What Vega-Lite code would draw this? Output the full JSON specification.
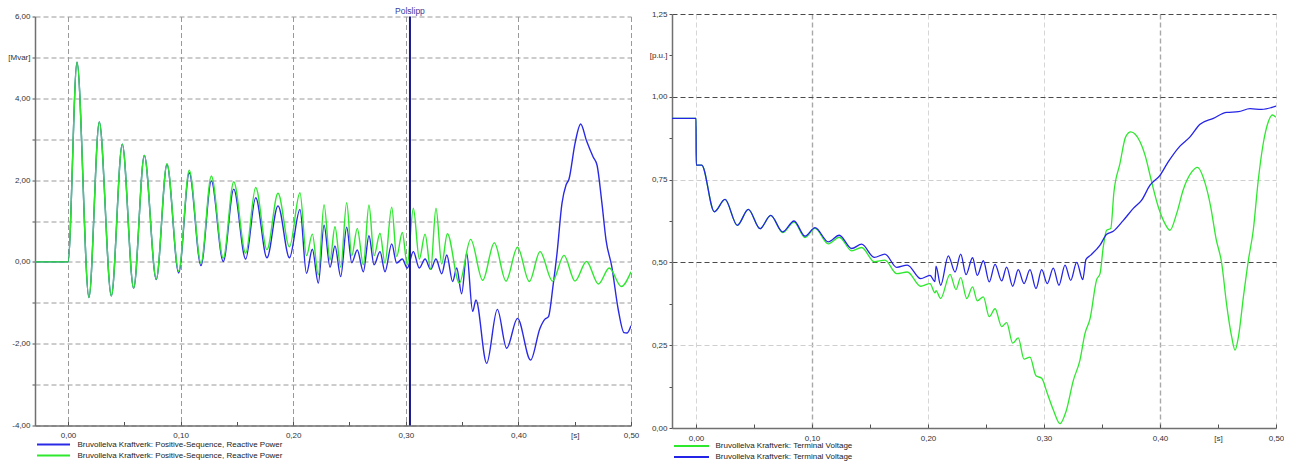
{
  "$schema": "https://vega.github.io/schema/vega-lite/v6.json",
  "background": "white",
  "padding": {"left": 7, "top": 6, "right": 0, "bottom": 0},
  "spacing": 41,
  "bounds": "flush",
  "center": true,
  "config": {
    "font": "Liberation Sans",
    "view": {"stroke": null},
    "axis": {
      "labelFont": "Liberation Sans",
      "labelFontSize": 8,
      "labelColor": "#333333",
      "domainColor": "#707070",
      "domainWidth": 1.5,
      "tickColor": "#505050",
      "title": null
    },
    "legend": {
      "labelFont": "Liberation Sans",
      "labelFontSize": 8,
      "labelColor": "#222222",
      "labelLimit": 0
    }
  },
  "datasets": {
    "reactive": [
      {"t": -0.0293, "q": 0, "case": "1"},
      {"t": 0, "q": 0, "case": "1"},
      {"t": 0.008, "q": 4.88, "case": "1"},
      {"t": 0.0186, "q": -0.87, "case": "1"},
      {"t": 0.0278, "q": 3.42, "case": "1"},
      {"t": 0.0385, "q": -0.83, "case": "1"},
      {"t": 0.0482, "q": 2.88, "case": "1"},
      {"t": 0.0583, "q": -0.64, "case": "1"},
      {"t": 0.0678, "q": 2.6, "case": "1"},
      {"t": 0.0784, "q": -0.43, "case": "1"},
      {"t": 0.0879, "q": 2.38, "case": "1"},
      {"t": 0.0983, "q": -0.27, "case": "1"},
      {"t": 0.1077, "q": 2.18, "case": "1"},
      {"t": 0.1181, "q": -0.09, "case": "1"},
      {"t": 0.1273, "q": 1.98, "case": "1"},
      {"t": 0.1379, "q": 0.01, "case": "1"},
      {"t": 0.1472, "q": 1.78, "case": "1"},
      {"t": 0.1578, "q": 0.07, "case": "1"},
      {"t": 0.1667, "q": 1.57, "case": "1"},
      {"t": 0.1767, "q": 0.1, "case": "1"},
      {"t": 0.1865, "q": 1.37, "case": "1"},
      {"t": 0.1967, "q": 0.1, "case": "1"},
      {"t": 0.206, "q": 1.28, "case": "1"},
      {"t": 0.2118, "q": -0.28, "case": "1"},
      {"t": 0.217, "q": 0.31, "case": "1"},
      {"t": 0.2223, "q": -0.52, "case": "1"},
      {"t": 0.2274, "q": 0.9, "case": "1"},
      {"t": 0.2327, "q": -0.13, "case": "1"},
      {"t": 0.2371, "q": 0.39, "case": "1"},
      {"t": 0.2422, "q": -0.36, "case": "1"},
      {"t": 0.2475, "q": 0.85, "case": "1"},
      {"t": 0.252, "q": -0.02, "case": "1"},
      {"t": 0.2569, "q": 0.29, "case": "1"},
      {"t": 0.2623, "q": -0.24, "case": "1"},
      {"t": 0.2673, "q": 0.64, "case": "1"},
      {"t": 0.2718, "q": -0.07, "case": "1"},
      {"t": 0.2771, "q": 0.25, "case": "1"},
      {"t": 0.2815, "q": -0.24, "case": "1"},
      {"t": 0.2875, "q": 0.44, "case": "1"},
      {"t": 0.2919, "q": -0.03, "case": "1"},
      {"t": 0.2969, "q": 0.07, "case": "1"},
      {"t": 0.3013, "q": -0.15, "case": "1"},
      {"t": 0.3067, "q": 0.25, "case": "1"},
      {"t": 0.312, "q": -0.15, "case": "1"},
      {"t": 0.3171, "q": 0.07, "case": "1"},
      {"t": 0.3221, "q": -0.18, "case": "1"},
      {"t": 0.3268, "q": 0.07, "case": "1"},
      {"t": 0.3319, "q": -0.29, "case": "1"},
      {"t": 0.3364, "q": 0.17, "case": "1"},
      {"t": 0.3416, "q": -0.48, "case": "1"},
      {"t": 0.3452, "q": -0.15, "case": "1"},
      {"t": 0.3496, "q": -0.78, "case": "1"},
      {"t": 0.3541, "q": 0.21, "case": "1"},
      {"t": 0.3594, "q": -1.21, "case": "1"},
      {"t": 0.3623, "q": -0.93, "case": "1"},
      {"t": 0.3718, "q": -2.48, "case": "1"},
      {"t": 0.3813, "q": -1.16, "case": "1"},
      {"t": 0.3896, "q": -2.11, "case": "1"},
      {"t": 0.3992, "q": -1.38, "case": "1"},
      {"t": 0.4108, "q": -2.4, "case": "1"},
      {"t": 0.4192, "q": -1.62, "case": "1"},
      {"t": 0.4236, "q": -1.4, "case": "1"},
      {"t": 0.4267, "q": -1.34, "case": "1"},
      {"t": 0.4307, "q": -0.6, "case": "1"},
      {"t": 0.4343, "q": 0.21, "case": "1"},
      {"t": 0.4387, "q": 1.43, "case": "1"},
      {"t": 0.4423, "q": 1.88, "case": "1"},
      {"t": 0.4449, "q": 2.02, "case": "1"},
      {"t": 0.4503, "q": 2.9, "case": "1"},
      {"t": 0.4553, "q": 3.37, "case": "1"},
      {"t": 0.4605, "q": 2.96, "case": "1"},
      {"t": 0.4663, "q": 2.57, "case": "1"},
      {"t": 0.4698, "q": 2.37, "case": "1"},
      {"t": 0.4742, "q": 1.43, "case": "1"},
      {"t": 0.4778, "q": 0.54, "case": "1"},
      {"t": 0.4829, "q": -0.11, "case": "1"},
      {"t": 0.4887, "q": -1.17, "case": "1"},
      {"t": 0.4938, "q": -1.73, "case": "1"},
      {"t": 0.4964, "q": -1.74, "case": "1"},
      {"t": 0.5, "q": -1.56, "case": "1"},
      {"t": -0.0293, "q": 0, "case": "2"},
      {"t": 0, "q": 0, "case": "2"},
      {"t": 0.008, "q": 4.88, "case": "2"},
      {"t": 0.0186, "q": -0.87, "case": "2"},
      {"t": 0.0278, "q": 3.42, "case": "2"},
      {"t": 0.0385, "q": -0.83, "case": "2"},
      {"t": 0.0482, "q": 2.88, "case": "2"},
      {"t": 0.0583, "q": -0.64, "case": "2"},
      {"t": 0.0678, "q": 2.6, "case": "2"},
      {"t": 0.0784, "q": -0.42, "case": "2"},
      {"t": 0.0879, "q": 2.4, "case": "2"},
      {"t": 0.0983, "q": -0.23, "case": "2"},
      {"t": 0.1077, "q": 2.24, "case": "2"},
      {"t": 0.1181, "q": -0.03, "case": "2"},
      {"t": 0.1273, "q": 2.1, "case": "2"},
      {"t": 0.1379, "q": 0.09, "case": "2"},
      {"t": 0.1472, "q": 1.96, "case": "2"},
      {"t": 0.1578, "q": 0.21, "case": "2"},
      {"t": 0.1667, "q": 1.82, "case": "2"},
      {"t": 0.1767, "q": 0.3, "case": "2"},
      {"t": 0.1865, "q": 1.68, "case": "2"},
      {"t": 0.1967, "q": 0.37, "case": "2"},
      {"t": 0.206, "q": 1.69, "case": "2"},
      {"t": 0.2118, "q": 0.15, "case": "2"},
      {"t": 0.217, "q": 0.68, "case": "2"},
      {"t": 0.2223, "q": -0.32, "case": "2"},
      {"t": 0.2274, "q": 1.4, "case": "2"},
      {"t": 0.2327, "q": 0.05, "case": "2"},
      {"t": 0.2371, "q": 0.86, "case": "2"},
      {"t": 0.2422, "q": -0.13, "case": "2"},
      {"t": 0.2475, "q": 1.45, "case": "2"},
      {"t": 0.252, "q": 0.15, "case": "2"},
      {"t": 0.2569, "q": 0.82, "case": "2"},
      {"t": 0.2623, "q": -0.07, "case": "2"},
      {"t": 0.2673, "q": 1.39, "case": "2"},
      {"t": 0.2718, "q": 0.15, "case": "2"},
      {"t": 0.2771, "q": 0.7, "case": "2"},
      {"t": 0.2815, "q": -0.03, "case": "2"},
      {"t": 0.2875, "q": 1.34, "case": "2"},
      {"t": 0.2919, "q": 0.13, "case": "2"},
      {"t": 0.2969, "q": 0.72, "case": "2"},
      {"t": 0.3013, "q": -0.07, "case": "2"},
      {"t": 0.3067, "q": 1.31, "case": "2"},
      {"t": 0.312, "q": 0.07, "case": "2"},
      {"t": 0.3171, "q": 0.68, "case": "2"},
      {"t": 0.3221, "q": -0.18, "case": "2"},
      {"t": 0.3268, "q": 1.31, "case": "2"},
      {"t": 0.3319, "q": -0.05, "case": "2"},
      {"t": 0.3369, "q": 0.69, "case": "2"},
      {"t": 0.3475, "q": -0.52, "case": "2"},
      {"t": 0.3576, "q": 0.55, "case": "2"},
      {"t": 0.3683, "q": -0.45, "case": "2"},
      {"t": 0.3786, "q": 0.47, "case": "2"},
      {"t": 0.389, "q": -0.47, "case": "2"},
      {"t": 0.3992, "q": 0.36, "case": "2"},
      {"t": 0.4097, "q": -0.48, "case": "2"},
      {"t": 0.4192, "q": 0.25, "case": "2"},
      {"t": 0.4303, "q": -0.47, "case": "2"},
      {"t": 0.4405, "q": 0.16, "case": "2"},
      {"t": 0.4503, "q": -0.47, "case": "2"},
      {"t": 0.4605, "q": 0.01, "case": "2"},
      {"t": 0.4711, "q": -0.54, "case": "2"},
      {"t": 0.4807, "q": -0.15, "case": "2"},
      {"t": 0.4914, "q": -0.6, "case": "2"},
      {"t": 0.5, "q": -0.24, "case": "2"}
    ],
    "events": [
      {"t": 0.3037, "event": "Polslipp"}
    ],
    "voltage": [
      {"t": -0.0207, "u": 0.935, "case": "1"},
      {"t": 0, "u": 0.935, "case": "1"},
      {"t": 0.0002, "u": 0.794, "case": "1"},
      {"t": 0.0049, "u": 0.794, "case": "1"},
      {"t": 0.0158, "u": 0.653, "case": "1"},
      {"t": 0.025, "u": 0.69, "case": "1"},
      {"t": 0.0356, "u": 0.612, "case": "1"},
      {"t": 0.0451, "u": 0.66, "case": "1"},
      {"t": 0.0552, "u": 0.602, "case": "1"},
      {"t": 0.0644, "u": 0.642, "case": "1"},
      {"t": 0.0747, "u": 0.59, "case": "1"},
      {"t": 0.0845, "u": 0.622, "case": "1"},
      {"t": 0.094, "u": 0.575, "case": "1"},
      {"t": 0.1026, "u": 0.603, "case": "1"},
      {"t": 0.1141, "u": 0.556, "case": "1"},
      {"t": 0.1235, "u": 0.576, "case": "1"},
      {"t": 0.1342, "u": 0.535, "case": "1"},
      {"t": 0.1428, "u": 0.545, "case": "1"},
      {"t": 0.1537, "u": 0.502, "case": "1"},
      {"t": 0.1629, "u": 0.507, "case": "1"},
      {"t": 0.173, "u": 0.466, "case": "1"},
      {"t": 0.1822, "u": 0.471, "case": "1"},
      {"t": 0.1937, "u": 0.428, "case": "1"},
      {"t": 0.2017, "u": 0.436, "case": "1"},
      {"t": 0.206, "u": 0.408, "case": "1"},
      {"t": 0.2069, "u": 0.415, "case": "1"},
      {"t": 0.2109, "u": 0.391, "case": "1"},
      {"t": 0.219, "u": 0.464, "case": "1"},
      {"t": 0.2241, "u": 0.418, "case": "1"},
      {"t": 0.2282, "u": 0.454, "case": "1"},
      {"t": 0.2334, "u": 0.391, "case": "1"},
      {"t": 0.2384, "u": 0.426, "case": "1"},
      {"t": 0.2425, "u": 0.384, "case": "1"},
      {"t": 0.2477, "u": 0.396, "case": "1"},
      {"t": 0.2528, "u": 0.336, "case": "1"},
      {"t": 0.2578, "u": 0.36, "case": "1"},
      {"t": 0.2635, "u": 0.306, "case": "1"},
      {"t": 0.2678, "u": 0.318, "case": "1"},
      {"t": 0.273, "u": 0.256, "case": "1"},
      {"t": 0.2778, "u": 0.272, "case": "1"},
      {"t": 0.2828, "u": 0.208, "case": "1"},
      {"t": 0.2879, "u": 0.214, "case": "1"},
      {"t": 0.2931, "u": 0.158, "case": "1"},
      {"t": 0.298, "u": 0.15, "case": "1"},
      {"t": 0.3028, "u": 0.105, "case": "1"},
      {"t": 0.308, "u": 0.055, "case": "1"},
      {"t": 0.3138, "u": 0.013, "case": "1"},
      {"t": 0.319, "u": 0.05, "case": "1"},
      {"t": 0.3253, "u": 0.144, "case": "1"},
      {"t": 0.331, "u": 0.205, "case": "1"},
      {"t": 0.3353, "u": 0.285, "case": "1"},
      {"t": 0.3397, "u": 0.33, "case": "1"},
      {"t": 0.3454, "u": 0.448, "case": "1"},
      {"t": 0.3483, "u": 0.466, "case": "1"},
      {"t": 0.3511, "u": 0.547, "case": "1"},
      {"t": 0.354, "u": 0.597, "case": "1"},
      {"t": 0.3575, "u": 0.602, "case": "1"},
      {"t": 0.3603, "u": 0.713, "case": "1"},
      {"t": 0.3655, "u": 0.799, "case": "1"},
      {"t": 0.3704, "u": 0.879, "case": "1"},
      {"t": 0.3747, "u": 0.894, "case": "1"},
      {"t": 0.3828, "u": 0.864, "case": "1"},
      {"t": 0.3871, "u": 0.824, "case": "1"},
      {"t": 0.3928, "u": 0.743, "case": "1"},
      {"t": 0.3985, "u": 0.668, "case": "1"},
      {"t": 0.4043, "u": 0.617, "case": "1"},
      {"t": 0.4086, "u": 0.597, "case": "1"},
      {"t": 0.4144, "u": 0.648, "case": "1"},
      {"t": 0.4201, "u": 0.72, "case": "1"},
      {"t": 0.4274, "u": 0.773, "case": "1"},
      {"t": 0.4322, "u": 0.787, "case": "1"},
      {"t": 0.4388, "u": 0.74, "case": "1"},
      {"t": 0.4437, "u": 0.668, "case": "1"},
      {"t": 0.4483, "u": 0.572, "case": "1"},
      {"t": 0.4532, "u": 0.497, "case": "1"},
      {"t": 0.4575, "u": 0.371, "case": "1"},
      {"t": 0.4618, "u": 0.275, "case": "1"},
      {"t": 0.4647, "u": 0.235, "case": "1"},
      {"t": 0.4676, "u": 0.275, "case": "1"},
      {"t": 0.4719, "u": 0.396, "case": "1"},
      {"t": 0.4762, "u": 0.507, "case": "1"},
      {"t": 0.4804, "u": 0.597, "case": "1"},
      {"t": 0.4847, "u": 0.748, "case": "1"},
      {"t": 0.489, "u": 0.859, "case": "1"},
      {"t": 0.4933, "u": 0.924, "case": "1"},
      {"t": 0.4968, "u": 0.945, "case": "1"},
      {"t": 0.5, "u": 0.938, "case": "1"},
      {"t": -0.0207, "u": 0.935, "case": "2"},
      {"t": 0, "u": 0.935, "case": "2"},
      {"t": 0.0002, "u": 0.794, "case": "2"},
      {"t": 0.0049, "u": 0.794, "case": "2"},
      {"t": 0.0158, "u": 0.653, "case": "2"},
      {"t": 0.025, "u": 0.69, "case": "2"},
      {"t": 0.0356, "u": 0.612, "case": "2"},
      {"t": 0.0451, "u": 0.66, "case": "2"},
      {"t": 0.0552, "u": 0.602, "case": "2"},
      {"t": 0.0644, "u": 0.642, "case": "2"},
      {"t": 0.0747, "u": 0.592, "case": "2"},
      {"t": 0.0845, "u": 0.625, "case": "2"},
      {"t": 0.094, "u": 0.579, "case": "2"},
      {"t": 0.1026, "u": 0.605, "case": "2"},
      {"t": 0.1141, "u": 0.562, "case": "2"},
      {"t": 0.1235, "u": 0.582, "case": "2"},
      {"t": 0.1342, "u": 0.542, "case": "2"},
      {"t": 0.1428, "u": 0.555, "case": "2"},
      {"t": 0.1537, "u": 0.515, "case": "2"},
      {"t": 0.1629, "u": 0.525, "case": "2"},
      {"t": 0.173, "u": 0.485, "case": "2"},
      {"t": 0.1822, "u": 0.492, "case": "2"},
      {"t": 0.1937, "u": 0.451, "case": "2"},
      {"t": 0.2017, "u": 0.461, "case": "2"},
      {"t": 0.206, "u": 0.442, "case": "2"},
      {"t": 0.2069, "u": 0.489, "case": "2"},
      {"t": 0.2109, "u": 0.431, "case": "2"},
      {"t": 0.2175, "u": 0.52, "case": "2"},
      {"t": 0.2233, "u": 0.471, "case": "2"},
      {"t": 0.2282, "u": 0.525, "case": "2"},
      {"t": 0.2328, "u": 0.463, "case": "2"},
      {"t": 0.2384, "u": 0.514, "case": "2"},
      {"t": 0.2425, "u": 0.461, "case": "2"},
      {"t": 0.2477, "u": 0.505, "case": "2"},
      {"t": 0.2528, "u": 0.441, "case": "2"},
      {"t": 0.2578, "u": 0.494, "case": "2"},
      {"t": 0.2635, "u": 0.444, "case": "2"},
      {"t": 0.2678, "u": 0.486, "case": "2"},
      {"t": 0.273, "u": 0.428, "case": "2"},
      {"t": 0.2778, "u": 0.478, "case": "2"},
      {"t": 0.2828, "u": 0.436, "case": "2"},
      {"t": 0.2879, "u": 0.478, "case": "2"},
      {"t": 0.2931, "u": 0.421, "case": "2"},
      {"t": 0.298, "u": 0.478, "case": "2"},
      {"t": 0.3028, "u": 0.436, "case": "2"},
      {"t": 0.308, "u": 0.483, "case": "2"},
      {"t": 0.3129, "u": 0.431, "case": "2"},
      {"t": 0.3181, "u": 0.492, "case": "2"},
      {"t": 0.323, "u": 0.446, "case": "2"},
      {"t": 0.3282, "u": 0.5, "case": "2"},
      {"t": 0.3334, "u": 0.448, "case": "2"},
      {"t": 0.3362, "u": 0.509, "case": "2"},
      {"t": 0.3403, "u": 0.522, "case": "2"},
      {"t": 0.3483, "u": 0.552, "case": "2"},
      {"t": 0.354, "u": 0.585, "case": "2"},
      {"t": 0.3597, "u": 0.594, "case": "2"},
      {"t": 0.3684, "u": 0.627, "case": "2"},
      {"t": 0.377, "u": 0.663, "case": "2"},
      {"t": 0.3842, "u": 0.688, "case": "2"},
      {"t": 0.3914, "u": 0.733, "case": "2"},
      {"t": 0.4, "u": 0.763, "case": "2"},
      {"t": 0.4072, "u": 0.804, "case": "2"},
      {"t": 0.4172, "u": 0.851, "case": "2"},
      {"t": 0.4259, "u": 0.879, "case": "2"},
      {"t": 0.4345, "u": 0.917, "case": "2"},
      {"t": 0.446, "u": 0.935, "case": "2"},
      {"t": 0.4575, "u": 0.953, "case": "2"},
      {"t": 0.4676, "u": 0.955, "case": "2"},
      {"t": 0.4776, "u": 0.964, "case": "2"},
      {"t": 0.4876, "u": 0.962, "case": "2"},
      {"t": 0.5, "u": 0.972, "case": "2"}
    ]
  },
  "hconcat": [
    {
      "width": 596,
      "height": 409,
      "layer": [
        {
          "data": {"name": "reactive"},
          "mark": {"type": "line", "interpolate": "monotone", "strokeWidth": 1.4, "clip": true},
          "encoding": {
            "x": {
              "field": "t", "type": "quantitative",
              "scale": {"domain": [-0.0293, 0.5], "nice": false, "zero": false},
              "axis": {
                "values": [0, 0.05, 0.1, 0.15, 0.2, 0.25, 0.3, 0.35, 0.4, 0.45, 0.5],
                "labelExpr": "datum.value == 0.45 ? '[s]' : (round(datum.value * 100) % 10 == 0 ? replace(format(datum.value, '.2f'), '.', ',') : '')",
                "grid": true,
                "gridColor": "#9a9a9a",
                "gridDash": [5, 3],
                "gridOpacity": {"condition": {"test": "round(datum.value * 100) % 10 != 0", "value": 0}, "value": 1},
                "tickSize": -4,
                "labelPadding": 10,
                "labelFlush": false
              }
            },
            "y": {
              "field": "q", "type": "quantitative",
              "scale": {"domain": [-4, 6], "nice": false},
              "axis": {
                "values": [-4, -3, -2, -1, 0, 1, 2, 3, 4, 5, 6],
                "labelExpr": "datum.value == 5 ? '[Mvar]' : (datum.value % 2 == 0 ? (datum.value < 0 ? '-' : '') + abs(datum.value) + ',00' : '')",
                "grid": true,
                "gridColor": "#9a9a9a",
                "gridDash": [5, 3],
                "tickSize": 3,
                "labelPadding": 2,
                "labelFlush": false
              }
            },
            "color": {
              "field": "case", "type": "nominal",
              "scale": {"domain": ["1", "2"], "range": ["#2a2ae6", "#2ee82e"]},
              "legend": {
                "orient": "none",
                "legendX": 14.5,
                "legendY": 424,
                "title": null,
                "direction": "vertical",
                "symbolType": "M-8.25,0H8.25",
                "symbolSize": 16,
                "symbolStrokeWidth": 2,
                "labelOffset": 20,
                "rowPadding": 3,
                "padding": 0,
                "labelExpr": "'Bruvollelva Kraftverk: Positive-Sequence, Reactive Power'"
              }
            }
          }
        },
        {
          "data": {"name": "events"},
          "mark": {"type": "rule", "color": "#15158a", "strokeWidth": 2},
          "encoding": {"x": {"field": "t", "type": "quantitative"}}
        },
        {
          "data": {"name": "events"},
          "mark": {"type": "text", "color": "#3a3a9e", "fontSize": 8.5, "baseline": "bottom", "dy": -1},
          "encoding": {
            "x": {"field": "t", "type": "quantitative"},
            "y": {"datum": 6},
            "text": {"field": "event"}
          }
        }
      ]
    },
    {
      "width": 604,
      "height": 414,
      "data": {"name": "voltage"},
      "mark": {"type": "line", "interpolate": "monotone", "strokeWidth": 1.3, "clip": true},
      "encoding": {
        "x": {
          "field": "t", "type": "quantitative",
          "scale": {"domain": [-0.0207, 0.5], "nice": false, "zero": false},
          "axis": {
            "values": [0, 0.05, 0.1, 0.15, 0.2, 0.25, 0.3, 0.35, 0.4, 0.45, 0.5],
            "labelExpr": "datum.value == 0.45 ? '[s]' : (round(datum.value * 100) % 10 == 0 ? replace(format(datum.value, '.2f'), '.', ',') : '')",
            "grid": true,
            "gridColor": {"condition": {"test": "datum.value == 0.1 || datum.value == 0.4", "value": "#a8a8a8"}, "value": "#d6d6d6"},
            "gridWidth": {"condition": {"test": "datum.value == 0.1 || datum.value == 0.4", "value": 1.4}, "value": 1},
            "gridDash": [5, 3],
            "gridOpacity": {"condition": {"test": "round(datum.value * 100) % 10 != 0", "value": 0}, "value": 1},
            "tickSize": -4,
            "labelPadding": 10,
            "labelFlush": false
          }
        },
        "y": {
          "field": "u", "type": "quantitative",
          "scale": {"domain": [0, 1.25], "nice": false},
          "axis": {
            "values": [0, 0.125, 0.25, 0.375, 0.5, 0.625, 0.75, 0.875, 1, 1.125, 1.25],
            "labelExpr": "datum.value == 1.125 ? '[p.u.]' : (round(datum.value * 1000) % 250 == 0 ? replace(format(datum.value, '.2f'), '.', ',') : '')",
            "labelColor": {"condition": {"test": "datum.value == 1.125", "value": "#4a1c1c"}, "value": "#333333"},
            "grid": true,
            "gridColor": {"condition": {"test": "datum.value == 1.25 || datum.value == 1 || datum.value == 0.5", "value": "#4a4a4a"}, "value": "#cfcfcf"},
            "gridDash": [5, 3],
            "gridOpacity": {"condition": {"test": "round(datum.value * 1000) % 250 != 0", "value": 0}, "value": 1},
            "tickSize": 3,
            "labelPadding": 2,
            "labelFlush": false
          }
        },
        "color": {
          "field": "case", "type": "nominal",
          "scale": {"domain": ["1", "2"], "range": ["#2ee82e", "#2424e6"]},
          "legend": {
            "orient": "none",
            "legendX": 15.5,
            "legendY": 428,
            "title": null,
            "direction": "vertical",
            "symbolType": "M-8.75,0H8.75",
            "symbolSize": 16,
            "symbolStrokeWidth": 2,
            "labelOffset": 20,
            "rowPadding": 3,
            "padding": 0,
            "labelExpr": "'Bruvollelva Kraftverk: Terminal Voltage'"
          }
        }
      }
    }
  ],
  "resolve": {"scale": {"color": "independent", "x": "independent", "y": "independent"}}
}
